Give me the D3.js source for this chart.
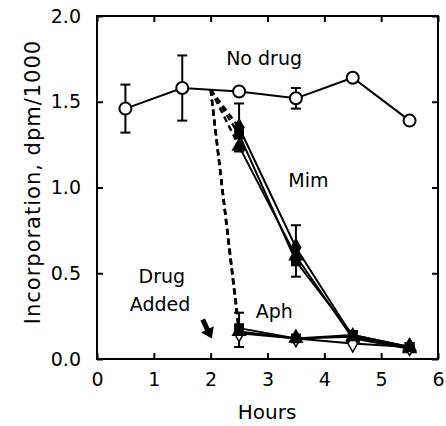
<!DOCTYPE html>
<html><head><meta charset="utf-8">
<script src="https://cdn.jsdelivr.net/npm/d3@7"></script>
<style>body{margin:0;background:#fff}svg{display:block}text{font-family:"DejaVu Sans",sans-serif;fill:#000}</style>
</head><body><svg id="c" width="446" height="426"></svg>
<script>
const hours = [0.5, 1.5, 2.5, 3.5, 4.5, 5.5];
const noDrug = [1.46, 1.58, 1.56, 1.52, 1.64, 1.39];
const noDrugErr = [0.14, 0.19, 0, 0.06, 0, 0];
const drugHours = [2.5, 3.5, 4.5, 5.5];
const mimDiamond = [1.35, 0.65, 0.13, 0.07];
const mimSquare = [1.31, 0.57, 0.14, 0.07];
const mimTriangle = [1.24, 0.60, 0.12, 0.06];
const mimErrCenter = [1.35, 0.63];
const mimErr = [0.14, 0.15];
const aphDiamond = [0.15, 0.12, 0.09, 0.07];
const aphSquare = [0.18, 0.12, 0.14, 0.07];
const aphTriangle = [0.16, 0.12, 0.13, 0.07];
const aphErrCenter = [0.17];
const aphErr = [0.10];
const drugStart = [2.0, 1.57];
const xTicks = [0, 1, 2, 3, 4, 5, 6];
const yTicks = [0, 0.5, 1.0, 1.5, 2.0];

const svg = d3.select("#c");
const x = d3.scaleLinear().domain([0, 6]).range([97, 438]);
const y = d3.scaleLinear().domain([0, 2]).range([359, 16]);

// frame
svg.append("rect").attr("x", 97).attr("y", 16).attr("width", 341).attr("height", 343)
  .attr("fill", "none").attr("stroke", "#000").attr("stroke-width", 2);

// axes (ticks inward)
const ax = (g, a) => { g.call(a); g.select(".domain").remove(); g.selectAll("line").attr("stroke-width", 2); };
svg.append("g").attr("transform", "translate(0,359)")
  .call(g => ax(g, d3.axisBottom(x).tickValues(xTicks).tickSize(-6).tickPadding(14).tickFormat(d3.format("d"))))
  .selectAll("text").attr("font-size", 19);
svg.append("g").attr("transform", "translate(0,16)")
  .call(g => ax(g, d3.axisTop(x).tickValues(xTicks).tickSize(-6).tickFormat("")));
svg.append("g").attr("transform", "translate(97,0)")
  .call(g => ax(g, d3.axisLeft(y).tickValues(yTicks).tickSize(-6).tickPadding(16).tickFormat(d3.format(".1f"))))
  .selectAll("text").attr("font-size", 19);
svg.append("g").attr("transform", "translate(438,0)")
  .call(g => ax(g, d3.axisRight(y).tickValues(yTicks).tickSize(-6).tickFormat("")));

// axis titles
svg.append("text").attr("x", 267).attr("y", 419).attr("text-anchor", "middle").attr("font-size", 20).text("Hours");
svg.append("text").attr("transform", "translate(40,182) rotate(-90)").attr("text-anchor", "middle")
  .attr("font-size", 21).attr("letter-spacing", 1).text("Incorporation, dpm/1000");

const line = d3.line().x(d => x(d[0])).y(d => y(d[1]));

// dashed lines from drug addition
[mimDiamond, mimSquare, mimTriangle, aphDiamond, aphSquare, aphTriangle].forEach(s => {
  svg.append("path").attr("d", line([drugStart, [drugHours[0], s[0]]]))
    .attr("fill", "none").attr("stroke", "#000").attr("stroke-width", 2.4).attr("stroke-dasharray", "6,4");
});

// error bars helper
function errBar(xv, c, e) {
  if (!e) return;
  const g = svg.append("g").attr("stroke", "#000").attr("stroke-width", 2);
  g.append("line").attr("x1", x(xv)).attr("x2", x(xv)).attr("y1", y(c - e)).attr("y2", y(c + e));
  g.append("line").attr("x1", x(xv) - 5).attr("x2", x(xv) + 5).attr("y1", y(c - e)).attr("y2", y(c - e));
  g.append("line").attr("x1", x(xv) - 5).attr("x2", x(xv) + 5).attr("y1", y(c + e)).attr("y2", y(c + e));
}
hours.forEach((h, i) => errBar(h, noDrug[i], noDrugErr[i]));
mimErr.forEach((e, i) => errBar(drugHours[i], mimErrCenter[i], e));
aphErr.forEach((e, i) => errBar(drugHours[i], aphErrCenter[i], e));

// series lines
const series = [
  {v: mimDiamond, sym: d3.symbolDiamond, fill: "#000", size: 80},
  {v: mimSquare, sym: d3.symbolSquare, fill: "#000", size: 70},
  {v: mimTriangle, sym: d3.symbolTriangle, fill: "#000", size: 70},
  {v: aphDiamond, sym: d3.symbolDiamond, fill: "#fff", size: 80},
  {v: aphSquare, sym: d3.symbolSquare, fill: "#000", size: 70},
  {v: aphTriangle, sym: d3.symbolTriangle, fill: "#000", size: 70}
];
series.forEach(s => {
  svg.append("path").attr("d", line(drugHours.map((h, i) => [h, s.v[i]])))
    .attr("fill", "none").attr("stroke", "#000").attr("stroke-width", 2);
});
svg.append("path").attr("d", line(hours.map((h, i) => [h, noDrug[i]])))
  .attr("fill", "none").attr("stroke", "#000").attr("stroke-width", 2);

series.forEach(s => {
  svg.append("g").selectAll("path").data(drugHours).join("path")
    .attr("transform", (h, i) => `translate(${x(h)},${y(s.v[i])})`)
    .attr("d", d3.symbol().type(s.sym).size(s.size))
    .attr("fill", s.fill).attr("stroke", "#000").attr("stroke-width", 1.5);
});
svg.append("g").selectAll("circle").data(hours).join("circle")
  .attr("cx", h => x(h)).attr("cy", (h, i) => y(noDrug[i])).attr("r", 6)
  .attr("fill", "#fff").attr("stroke", "#000").attr("stroke-width", 2);

// labels
const lab = (t, xv, yv) => svg.append("text").attr("x", x(xv)).attr("y", y(yv))
  .attr("text-anchor", "middle").attr("font-size", 19).text(t);
lab("No drug", 2.94, 1.715);
lab("Mim", 3.72, 1.005);
lab("Aph", 3.12, 0.24);
lab("Drug", 1.14, 0.445);
lab("Added", 1.11, 0.28);

// arrow
const a0 = [1.86, 0.23], a1 = [2.02, 0.12];
svg.append("path").attr("d", line([a0, [1.96, 0.16]])).attr("stroke", "#000").attr("stroke-width", 5).attr("fill", "none");
const ang = Math.atan2(y(a1[1]) - y(a0[1]), x(a1[0]) - x(a0[0])) * 180 / Math.PI;
svg.append("path").attr("transform", `translate(${x(a1[0])},${y(a1[1])}) rotate(${ang})`)
  .attr("d", "M0,0 L-10,-7 L-10,7 Z").attr("fill", "#000");
</script></body></html>
